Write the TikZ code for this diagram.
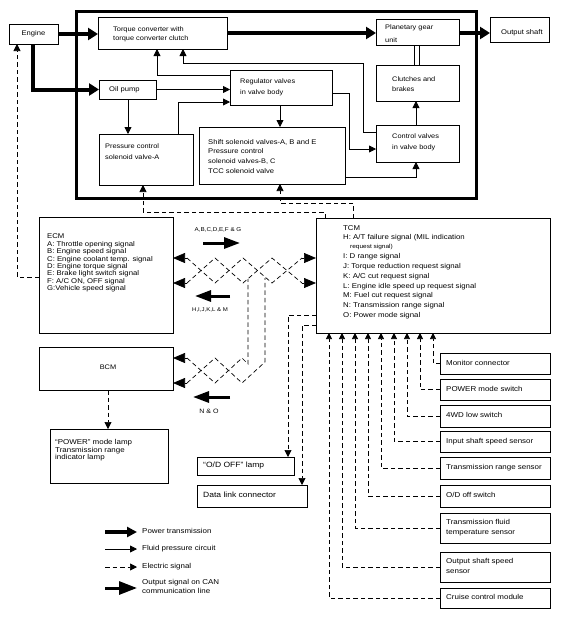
\documentclass[tikz,border=0pt]{standalone}
\usepackage{fontspec}
\setmainfont[FakeStretch=1.12]{Liberation Sans}
\usetikzlibrary{arrows.meta}
\newcommand\mybox[5]{\node[box, anchor=north west, minimum width={(#4-#2)*1pt}, minimum height={(#5-#3)*1pt}] (#1) at (#2,#3) {};}
\begin{document}
\begin{tikzpicture}[x=1pt,y=-1pt,
  box/.style={draw, line width=0.8pt, inner sep=0pt, outer sep=0pt},
  txt/.style={font=\fontsize{#1}{9}\selectfont, inner sep=0pt, anchor=west, text height=5pt, text depth=1.5pt},
  txt/.default=6.6,
  power/.style={line width=4pt, -{Triangle[length=10pt,width=12pt]}},
  fluid/.style={line width=0.8pt, -{Triangle[length=7pt,width=7pt]}},
  fline/.style={line width=0.8pt},
  elec/.style={line width=0.7pt, dash pattern=on 4.5pt off 3pt, -{Triangle[length=7pt,width=7pt]}},
  elecs/.style={line width=0.7pt, dash pattern=on 4.5pt off 3pt, -{Triangle[length=6pt,width=6pt]}},
  eline/.style={line width=0.7pt, dash pattern=on 4.5pt off 3pt},
  canhead/.style={line width=0.7pt, -{Triangle[length=12pt,width=10pt]}},
  can/.style={line width=3pt, -{Triangle[length=16pt,width=11pt]}}]
\useasboundingbox (0,0) rectangle (568,619);
\fill[white] (0,0) rectangle (568,619);

% frame
\node[draw, line width=3pt, anchor=north west, minimum width=400pt, minimum height=187pt, inner sep=0pt] (frame) at (75,10) {};

% boxes
\mybox{engine}{9}{24}{58}{44}
\mybox{tc}{98}{17}{227}{49}
\mybox{oil}{99}{80}{156}{99}
\mybox{reg}{230}{70}{332}{105}
\mybox{pcsv}{99}{134}{193}{185}
\mybox{shift}{199}{127}{345}{184}
\mybox{pg}{376}{19}{459}{45}
\mybox{cl}{376}{65}{459}{101}
\mybox{cv}{376}{125}{459}{162}
\mybox{out}{490}{17}{549}{42}
\mybox{ecm}{39}{217}{173}{333}
\mybox{tcm}{316}{218}{550}{333}
\mybox{bcm}{39}{347}{173}{390}
\mybox{lamp}{50}{429}{168}{483}
\mybox{odl}{197}{457}{294}{475}
\mybox{dlc}{197}{485}{307}{507}
\mybox{s1}{440}{353}{550}{374}
\mybox{s2}{440}{379}{550}{400}
\mybox{s3}{440}{405}{550}{427}
\mybox{s4}{440}{431}{550}{452}
\mybox{s5}{440}{457}{550}{479}
\mybox{s6}{440}{485}{550}{507}
\mybox{s7}{440}{513}{550}{543}
\mybox{s8}{440}{552}{550}{582}
\mybox{s9}{440}{588}{550}{608}

% texts in top part
\node[txt=6.8, anchor=center] (t-engine) at (engine) {Engine};
\node[txt] (t-tc1) at (113,30) {Torque converter with};
\node[txt] (t-tc2) at (113,39) {torque converter clutch};
\node[txt=6.8] (t-oil) at (109,90) {Oil pump};
\node[txt] (t-reg1) at (240,82) {Regulator valves};
\node[txt] (t-reg2) at (240,93) {in valve body};
\node[txt] (t-pc1) at (105,147) {Pressure control};
\node[txt] (t-pc2) at (105,158) {solenoid valve-A};
\node[txt=6.8] (t-sh1) at (208,143) {Shift solenoid valves-A, B and E};
\node[txt=6.8] (t-sh2) at (208,152) {Pressure control};
\node[txt] (t-sh3) at (208,162) {solenoid valves-B, C};
\node[txt=6.8] (t-sh4) at (208,172) {TCC solenoid valve};
\node[txt] (t-pg1) at (385,28) {Planetary gear};
\node[txt] (t-pg2) at (385,41) {unit};
\node[txt] (t-cl1) at (392,80) {Clutches and};
\node[txt] (t-cl2) at (392,90) {brakes};
\node[txt] (t-cv1) at (392,137) {Control valves};
\node[txt] (t-cv2) at (392,148) {in valve body};
\node[txt=6.8] (t-out) at (501,33) {Output shaft};

% ECM texts
\foreach \t [count=\i] in {ECM, A: Throttle opening signal, B: Engine speed signal, C: Engine coolant temp. signal, D: Engine torque signal, E: Brake light switch signal, {F: A/C ON, OFF signal}, G:Vehicle speed signal}{
  \pgfmathsetmacro\yy{237+(\i-1)*7.43}
  \node[txt=6.9] (ecmt\i) at (47,\yy) {\t};
}
% TCM texts
\node[txt=7] (tcmt0) at (343,229) {TCM};
\node[txt=7] (tcmt1) at (343,238) {H: A/T failure signal (MIL indication};
\node[txt=5.8] (tcmt2) at (350,247) {request signal)};
\node[txt=7] (tcmt3) at (343,257) {I: D range signal};
\node[txt=7] (tcmt4) at (343,267) {J: Torque reduction request signal};
\node[txt=7] (tcmt5) at (343,277) {K: A/C cut request signal};
\node[txt=7] (tcmt6) at (343,287) {L: Engine idle speed up request signal};
\node[txt=7] (tcmt7) at (343,296) {M: Fuel cut request signal};
\node[txt=7] (tcmt8) at (343,306) {N: Transmission range signal};
\node[txt=7] (tcmt9) at (343,316) {O: Power mode signal};

\node[txt=6.6, anchor=center] (t-bcm) at (108,368) {BCM};
\node[txt=7.1] (t-l1) at (55,443) {“POWER” mode lamp};
\node[txt=7.1] (t-l2) at (55,451) {Transmission range};
\node[txt=7.1] (t-l3) at (55,458) {indicator lamp};
\node[txt=7.6] (t-odl) at (203,466) {“O/D OFF” lamp};
\node[txt=7.6] (t-dlc) at (203,496) {Data link connector};

\node[txt=7.1] (t-s1) at (446,363.5) {Monitor connector};
\node[txt=7.1] (t-s2) at (446,389.5) {POWER mode switch};
\node[txt=7.1] (t-s3) at (446,416) {4WD low switch};
\node[txt=7.1] (t-s4) at (446,441.5) {Input shaft speed sensor};
\node[txt=7.1] (t-s5) at (446,468) {Transmission range sensor};
\node[txt=7.1] (t-s6) at (446,496) {O/D off switch};
\node[txt=7.1] (t-s7a) at (446,523) {Transmission fluid};
\node[txt=7.1] (t-s7b) at (446,533) {temperature sensor};
\node[txt=7.1] (t-s8a) at (446,562) {Output shaft speed};
\node[txt=7.1] (t-s8b) at (446,572) {sensor};
\node[txt=7.1] (t-s9) at (446,598) {Cruise control module};

% power transmission
\draw[power] (engine.east) -- (engine.east -| tc.west);
\draw[power] (engine.south -| 33,0) |- (oil.west);
\draw[power] (tc.east |- 0,33) -- (pg.west |- 0,33);
\draw[power] (pg.east |- 0,33) -- (out.west |- 0,33);

% fluid pressure
\draw[fluid] (oil.east) -- (oil.east -| reg.west);
\draw[fluid] (oil.south -| 128,0) -- (pcsv.north -| 128,0);
\draw[fluid] (pcsv.north -| 178,0) |- (reg.west |- 0,102);
\draw[fluid] (reg.west |- 0,75) -| (tc.south -| 157,0);
\draw[fluid] (cv.west |- 0,132) -- (363,132) -- (363,63) -| (tc.south -| 183,0);
\draw[fluid] (reg.east |- 0,93) -- (349,93) |- (cv.west |- 0,149);
\draw[fluid] (reg.south -| 280,0) -- (shift.north -| 280,0);
\draw[fluid] (shift.east |- 0,177) -| (cv.south -| 416,0);
\draw[fluid] (cv.north -| 416,0) -- (cl.south -| 416,0);
\draw[fline] (cl.north -| 414,0) -- (pg.south -| 414,0);
\draw[fline] (cl.north -| 419,0) -- (pg.south -| 419,0);

% electric signals to the top
\draw[elec] (ecm.west |- 0,277) -- (17,277) -- (engine.south -| 17,0);
\draw[elec] (tcm.north -| 325,0) -- (325,212) -- (143,212) -- (pcsv.south -| 143,0);
\draw[elec] (tcm.north -| 353,0) -- (353,203) -- (280,203) -- (shift.south -| 280,0);

% CAN line ECM-TCM
\draw[canhead] (187,258) -- (ecm.east |- 0,258);
\draw[canhead] (187,283) -- (ecm.east |- 0,283);
\draw[canhead] (302,258) -- (tcm.west |- 0,258);
\draw[canhead] (302,283) -- (tcm.west |- 0,283);
\draw[eline] (187,258) -- (215,283) -- (243,258) -- (272,283) -- (302,258);
\draw[eline] (187,283) -- (215,258) -- (243,283) -- (272,258) -- (302,283);
% CAN line to BCM
\draw[canhead] (187,358) -- (bcm.east |- 0,358);
\draw[canhead] (187,383) -- (bcm.east |- 0,383);
\draw[eline] (187,358) -- (215,383) -- (242,358) -- (248,364) -- (248,279);
\draw[eline] (187,383) -- (215,358) -- (242,383) -- (265,362) -- (265,278);

% CAN labels
\node[txt=5.6, anchor=center] (t-ag) at (218,230) {A,B,C,D,E,F \& G};
\draw[can] (203,243) -- (240,243);
\node[txt=5.4, anchor=center] (t-hm) at (210,310) {H,I,J,K,L \& M};
\draw[can] (230,296) -- (195,296);
\node[txt=6.3, anchor=center] (t-no) at (209,412) {N \& O};
\draw[can] (230,397) -- (193,397);

% BCM / TCM outputs
\draw[elec] (bcm.south -| 108,0) -- (lamp.north -| 108,0);
\draw[elec] (tcm.west |- 0,315) -- (288,315) -- (odl.north -| 288,0);
\draw[elec] (tcm.west |- 0,325) -- (302,325) -- (dlc.north -| 302,0);

% sensor inputs
\draw[elecs] (s1.west) -| (433,0 |- tcm.south);
\draw[elecs] (s2.west) -| (420,0 |- tcm.south);
\draw[elecs] (s3.west) -| (407,0 |- tcm.south);
\draw[elecs] (s4.west) -| (394,0 |- tcm.south);
\draw[elecs] (s5.west) -| (381,0 |- tcm.south);
\draw[elecs] (s6.west) -| (368,0 |- tcm.south);
\draw[elecs] (s7.west) -| (355,0 |- tcm.south);
\draw[elecs] (s8.west) -| (342,0 |- tcm.south);
\draw[elecs] (s9.west) -| (329,0 |- tcm.south);

% legend
\coordinate (lg1a) at (105,532); \coordinate (lg1b) at (137,532);
\coordinate (lg2a) at (105,549); \coordinate (lg2b) at (137,549);
\coordinate (lg3a) at (105,567); \coordinate (lg3b) at (137,567);
\coordinate (lg4a) at (105,588); \coordinate (lg4b) at (137,588);
\draw[power, -{Triangle[length=10pt,width=10pt]}] (lg1a) -- (lg1b);
\draw[fluid] (lg2a) -- (lg2b);
\draw[elec] (lg3a) -- (lg3b);
\draw[can, -{Triangle[length=18pt,width=13pt]}] (lg4a) -- (lg4b);
\node[txt=7.1] (t-lg1) at (142,532) {Power transmission};
\node[txt=7.1] (t-lg2) at (142,549) {Fluid pressure circuit};
\node[txt=7.1] (t-lg3) at (142,567) {Electric signal};
\node[txt=7.1] (t-lg4a) at (142,583) {Output signal on CAN};
\node[txt=7.1] (t-lg4b) at (142,592) {communication line};
\end{tikzpicture}
\end{document}
